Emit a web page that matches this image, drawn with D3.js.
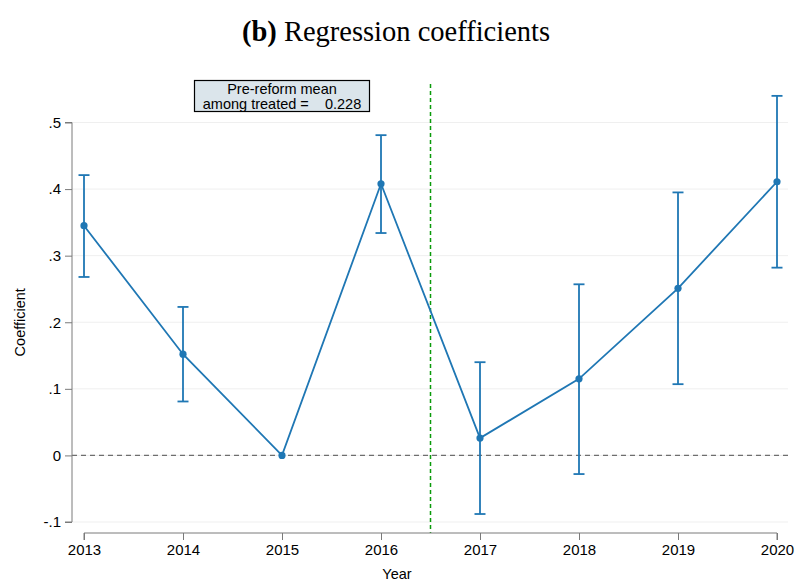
<!DOCTYPE html>
<html>
<head>
<meta charset="utf-8">
<script src="https://cdn.jsdelivr.net/npm/d3@7"></script>
<style>
  html, body { margin: 0; padding: 0; background: #fff; }
  svg { display: block; }
</style>
</head>
<body>
<svg id="chart" width="795" height="581"></svg>
<script>
// Event-study estimates by year with 95% confidence bounds
const years = [2013, 2014, 2015, 2016, 2017, 2018, 2019, 2020];
const coef  = [0.345, 0.152, 0.000, 0.408, 0.026, 0.115, 0.251, 0.411];
const upper = [0.421, 0.223, null,  0.481, 0.140, 0.257, 0.395, 0.540];
const lower = [0.268, 0.081, null,  0.334, -0.088, -0.028, 0.107, 0.282];
const yTicks = [-0.1, 0, 0.1, 0.2, 0.3, 0.4, 0.5];
const reformYear = 2016.5;
const preMean = 0.228;

const svg = d3.select("#chart");
const font = "'Liberation Sans', Arial, sans-serif";
const blue = "#1f77b4";

const x = d3.scaleLinear().domain([2013, 2020]).range([84, 777]);
const y = d3.scaleLinear().domain([-0.1, 0.5]).range([522, 122.5]);
const plotLeft = 72, plotRight = 788;

// Stata-style labels: no leading zero, plain hyphen for negatives
const fmt = v => v === 0 ? "0" : d3.format(".1f")(v).replace("−", "-").replace(/^(-?)0\./, "$1.");

// Title
const title = svg.append("text")
  .attr("x", 396).attr("y", 41)
  .attr("text-anchor", "middle")
  .attr("font-family", "'Liberation Serif', 'Times New Roman', serif")
  .attr("font-size", 28.5).attr("fill", "#000");
title.append("tspan").attr("font-weight", "bold").text("(b)");
title.append("tspan").text(" Regression coefficients");

// Horizontal gridlines
svg.append("g").selectAll("line").data(yTicks).join("line")
  .attr("x1", plotLeft).attr("x2", plotRight)
  .attr("y1", d => y(d)).attr("y2", d => y(d))
  .attr("stroke", "#efefef").attr("stroke-width", 1);

// Zero reference line
svg.append("line")
  .attr("x1", plotLeft).attr("x2", plotRight)
  .attr("y1", y(0)).attr("y2", y(0))
  .attr("stroke", "#6e6e6e").attr("stroke-width", 1.1)
  .attr("stroke-dasharray", "5,4");

// Reform year marker
svg.append("line")
  .attr("x1", x(reformYear)).attr("x2", x(reformYear))
  .attr("y1", 84).attr("y2", 533)
  .attr("stroke", "#0a9a0a").attr("stroke-width", 1.5)
  .attr("stroke-dasharray", "4,3");

// Y axis
const yAxis = svg.append("g")
  .attr("transform", `translate(${plotLeft},0)`)
  .call(d3.axisLeft(y).tickValues(yTicks).tickFormat(fmt).tickSize(7).tickPadding(4));
yAxis.select(".domain").attr("stroke", "#7a7a7a").attr("d", `M-7,${y(0.5)}H0V${y(-0.1)}H-7`);
yAxis.selectAll(".tick line").attr("stroke", "#7a7a7a");
yAxis.selectAll(".tick text").attr("font-family", font).attr("font-size", 15).attr("fill", "#000");

// X axis
const xAxis = svg.append("g")
  .attr("transform", "translate(0,533)")
  .call(d3.axisBottom(x).tickValues(years).tickFormat(d3.format("d")).tickSize(7).tickPadding(4));
xAxis.select(".domain").attr("stroke", "#7a7a7a").attr("d", `M${x(2013)},7V0H${x(2020)}V7`);
xAxis.selectAll(".tick line").attr("stroke", "#7a7a7a");
xAxis.selectAll(".tick text").attr("font-family", font).attr("font-size", 15).attr("fill", "#000");

// Axis titles
svg.append("text")
  .attr("x", 397).attr("y", 579)
  .attr("text-anchor", "middle")
  .attr("font-family", font).attr("font-size", 14.5).text("Year");
svg.append("text")
  .attr("transform", `translate(25,${y(0.2)}) rotate(-90)`)
  .attr("text-anchor", "middle")
  .attr("font-family", font).attr("font-size", 14.5).text("Coefficient");

// Confidence intervals
const ci = years.map((yr, i) => ({ yr, lo: lower[i], hi: upper[i] })).filter(d => d.lo !== null);
const capW = 5.5;
const g = svg.append("g").attr("stroke", blue).attr("stroke-width", 1.8).attr("fill", "none");
g.selectAll(".stem").data(ci).join("line")
  .attr("x1", d => x(d.yr)).attr("x2", d => x(d.yr))
  .attr("y1", d => y(d.lo)).attr("y2", d => y(d.hi));
g.selectAll(".capHi").data(ci).join("line")
  .attr("x1", d => x(d.yr) - capW).attr("x2", d => x(d.yr) + capW)
  .attr("y1", d => y(d.hi)).attr("y2", d => y(d.hi));
g.selectAll(".capLo").data(ci).join("line")
  .attr("x1", d => x(d.yr) - capW).attr("x2", d => x(d.yr) + capW)
  .attr("y1", d => y(d.lo)).attr("y2", d => y(d.lo));

// Coefficient line and markers
const pts = years.map((yr, i) => ({ yr, v: coef[i] }));
svg.append("path").datum(pts)
  .attr("d", d3.line().x(d => x(d.yr)).y(d => y(d.v)))
  .attr("fill", "none").attr("stroke", blue).attr("stroke-width", 1.8);
svg.append("g").selectAll("circle").data(pts).join("circle")
  .attr("cx", d => x(d.yr)).attr("cy", d => y(d.v)).attr("r", 3.6)
  .attr("fill", blue);

// Pre-reform mean annotation box
const box = svg.append("g");
box.append("rect")
  .attr("x", 194.5).attr("y", 80.5).attr("width", 175).attr("height", 31)
  .attr("fill", "#dbe5eb").attr("stroke", "#000").attr("stroke-width", 1.2);
box.append("text")
  .attr("x", 282).attr("y", 93.5)
  .attr("text-anchor", "middle")
  .attr("font-family", font).attr("font-size", 14.5).text("Pre-reform mean");
box.append("text")
  .attr("x", 282).attr("y", 108.5)
  .attr("text-anchor", "middle")
  .attr("font-family", font).attr("font-size", 14.5)
  .attr("xml:space", "preserve")
  .text("among treated =    " + d3.format(".3f")(preMean));
</script>
</body>
</html>
